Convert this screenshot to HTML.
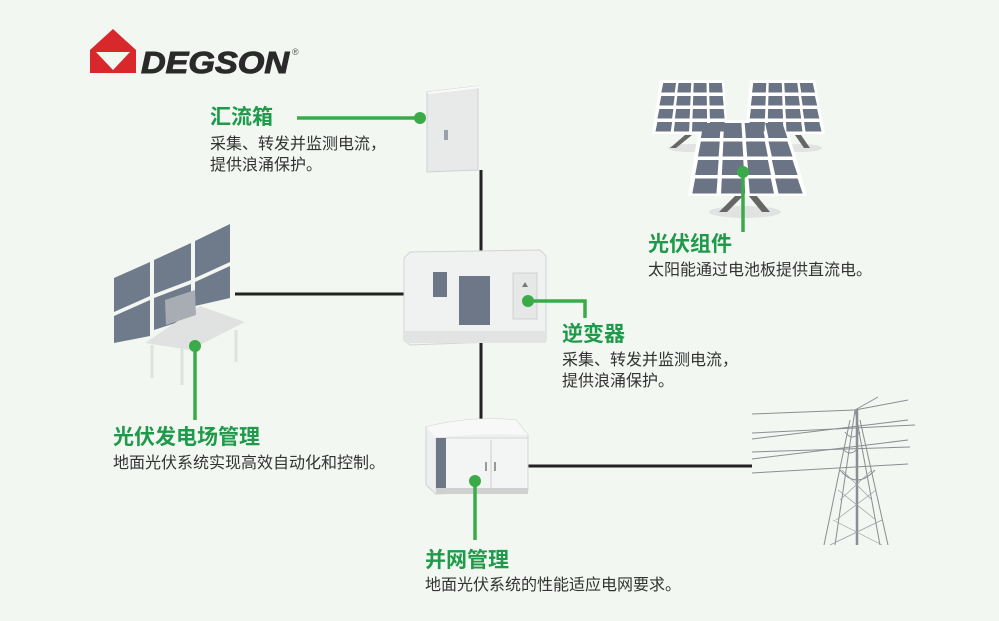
<!DOCTYPE html>
<html><head><meta charset="utf-8"><style>
html,body{margin:0;padding:0;}
body{width:999px;height:621px;background:#f2f7f1;position:relative;overflow:hidden;font-family:"Liberation Sans","Noto Sans CJK SC",sans-serif;}
.t{position:absolute;color:#1f9a4a;font-weight:bold;font-size:21px;line-height:24px;white-space:nowrap;}
.d{position:absolute;color:#333;font-size:16px;line-height:21px;white-space:nowrap;}
svg{position:absolute;left:0;top:0;}
</style></head><body>
<svg width="999" height="621" viewBox="0 0 999 621">
<!-- logo -->
<polygon points="113,29 136,50 90,50" fill="#d8282c"/>
<rect x="90" y="50" width="46" height="23" fill="#d8282c"/>
<polygon points="96,52 130,52 113,70" fill="#f2f7f1"/>
<text x="141" y="73" font-family="Liberation Sans" font-weight="bold" font-style="italic" font-size="31" fill="#2a2a2a" stroke="#2a2a2a" stroke-width="1" textLength="148" lengthAdjust="spacingAndGlyphs">DEGSON</text>
<text x="292" y="55" font-family="Liberation Sans" font-size="9" fill="#555">®</text>

<!-- black connectors -->
<g stroke="#222" stroke-width="3" fill="none">
<line x1="481" y1="170" x2="481" y2="256"/>
<line x1="481" y1="340" x2="481" y2="422"/>
<line x1="235" y1="294" x2="405" y2="294"/>
<line x1="526" y1="466" x2="752" y2="466"/>
</g>

<!-- combiner box -->
<polygon points="427,92 478,86 478,170 427,172" fill="#e8eaea" stroke="#d0d2d2"/>
<polygon points="427,92 478,86 480,88 429,94" fill="#fafafa"/>
<rect x="444" y="130" width="4" height="10" fill="#9aa0a8"/>

<!-- inverter -->
<polygon points="410,252 540,250 546,256 546,340 410,345 404,340 404,258" fill="#f0f1f1" stroke="#d3d5d5"/>
<rect x="405" y="331" width="141" height="12" fill="#e2e4e4"/>
<rect x="433" y="272" width="14" height="25" fill="#6d7788"/>
<rect x="459" y="276" width="31" height="49" fill="#6d7788"/>
<rect x="513" y="273" width="24" height="46" fill="#e6e8e8" stroke="#cfd2d2"/>
<polygon points="525,282 528,287 522,287" fill="#777"/>

<!-- transformer -->
<path d="M426,427 Q470,416 516,420 L528,435 L528,490 L436,494 L426,485 Z" fill="#eeefef" stroke="#d0d2d2"/>
<path d="M426,427 Q470,416 516,420 L528,435 Q480,432 436,438 Z" fill="#f8f8f8"/>
<rect x="436" y="438" width="92" height="52" fill="#f3f4f4" stroke="#d6d8d8"/>
<rect x="436" y="488" width="92" height="6" fill="#cfd1d1"/>
<rect x="436" y="438" width="10" height="50" fill="#6d7788"/>
<line x1="491" y1="440" x2="491" y2="488" stroke="#ccc"/>
<rect x="485" y="462" width="2" height="9" fill="#999"/><rect x="494" y="462" width="2" height="9" fill="#999"/>

<!-- monitors -->
<g fill="#6f7a8b">
<polygon points="114,278 150,262 150,296 114,312"/>
<polygon points="114,316 150,300 150,336 114,343"/>
<polygon points="154,260 191,243 191,280 154,294"/>
<polygon points="154,298 191,284 191,318 154,330"/>
<polygon points="195,241 230,224 230,262 195,278"/>
<polygon points="195,282 230,266 230,298 195,306"/>
</g>
<polygon points="145,343 200,306 245,322 190,350" fill="#dfe2e1"/>
<polygon points="165,300 195,290 196,315 166,325" fill="#a8adb3"/>
<g stroke="#dfe2e1" stroke-width="3"><line x1="152" y1="345" x2="152" y2="378"/><line x1="182" y1="348" x2="182" y2="385"/><line x1="236" y1="330" x2="236" y2="362"/></g>

<!-- solar panels -->
<g>
<polygon points="660,80 724,80 728,134 652,134" fill="#fff"/>
<polygon points="750,80 815,80 825,134 745,134" fill="#fff"/>
<ellipse cx="690" cy="148" rx="22" ry="4" fill="#e0e3e2"/>
<ellipse cx="800" cy="148" rx="22" ry="4" fill="#e0e3e2"/>
<polygon points="685,135 692,135 676,148 670,148" fill="#666"/>
<polygon points="795,135 801,135 810,148 804,148" fill="#666"/>
<ellipse cx="745" cy="212" rx="36" ry="6" fill="#e0e3e2"/>
<polygon points="736,195 744,195 727,212 719,212" fill="#666"/>
<polygon points="748,195 756,195 770,212 762,212" fill="#666"/>
<polygon points="700,120 785,120 807,196 688,196" fill="#fff"/>
</g>
<g fill="#6b7485" id="cells"></g>

<!-- tower -->
<g stroke="#8a8e92" stroke-width="1" fill="none">
<line x1="752" y1="414" x2="855" y2="410"/>
<line x1="752" y1="433" x2="915" y2="425"/>
<line x1="752" y1="439" x2="908" y2="420"/>
<line x1="752" y1="452" x2="910" y2="447"/>
<line x1="752" y1="459" x2="908" y2="440"/>
<line x1="752" y1="473" x2="908" y2="464"/>
<line x1="855" y1="410" x2="878" y2="397"/>
<line x1="855" y1="410" x2="908" y2="400"/>
<line x1="855" y1="410" x2="835" y2="545"/>
<line x1="855" y1="410" x2="880" y2="545"/>
<line x1="850" y1="420" x2="824" y2="545"/>
<line x1="860" y1="420" x2="888" y2="545"/>
<path d="M840,470 Q857,490 875,470"/>
<path d="M842,448 Q850,458 858,448"/>
<path d="M845,432 Q852,442 860,432"/>
</g>
<line x1="857" y1="410" x2="857" y2="545" stroke="#8a8e92" stroke-width="2.5"/>
<g stroke="#9a9ea2" stroke-width="0.7"><line x1="838" y1="490" x2="876" y2="520"/><line x1="876" y1="490" x2="836" y2="520"/><line x1="842" y1="470" x2="872" y2="500"/><line x1="872" y1="470" x2="840" y2="500"/><line x1="833" y1="520" x2="882" y2="545"/><line x1="882" y1="520" x2="830" y2="545"/></g>

<!-- green connectors -->
<g stroke="#3bab49" stroke-width="3.5" fill="none">
<line x1="297" y1="118" x2="420" y2="118"/>
<polyline points="528,301 585,301 585,318"/>
<line x1="195" y1="346" x2="195" y2="420"/>
<line x1="475" y1="481" x2="475" y2="540"/>
<line x1="743" y1="172" x2="743" y2="232"/>
</g>
<g fill="#3bab49">
<circle cx="420" cy="118" r="6"/><circle cx="528" cy="301" r="6"/><circle cx="195" cy="346" r="6"/><circle cx="475" cy="481" r="6"/><circle cx="743" cy="172" r="6"/>
</g>
</svg>
<script>
(function(){var g=document.getElementById('cells'),s='';
function panel(x0t,x1t,x0b,x1b,y0,y1,n){for(var r=0;r<n;r++)for(var c=0;c<4;c++){var a=r/n,b=(r+1)/n;function X(t,u){var l=x0t+(x0b-x0t)*t,rr=x1t+(x1b-x1t)*t;return l+(rr-l)*u;}
var ya=y0+(y1-y0)*a+2,yb=y0+(y1-y0)*b-1.5,ua=c/4+0.02,ub=(c+1)/4-0.02;
s+='<polygon points="'+X(a,ua)+','+ya+' '+X(a,ub)+','+ya+' '+X(b,ub)+','+yb+' '+X(b,ua)+','+yb+'"/>';}}
panel(662,723,654,727,81,133,4);panel(752,814,747,823,81,133,4);panel(702,784,690,805,121,195,4);
g.innerHTML=s;})();
</script>
<div class="t" style="left:210px;top:106px;">汇流箱</div>
<div class="d" style="left:210px;top:134px;">采集、转发并监测电流，<br>提供浪涌保护。</div>
<div class="t" style="left:648px;top:233px;">光伏组件</div>
<div class="d" style="left:648px;top:260px;">太阳能通过电池板提供直流电。</div>
<div class="t" style="left:562px;top:323px;">逆变器</div>
<div class="d" style="left:562px;top:350px;">采集、转发并监测电流，<br>提供浪涌保护。</div>
<div class="t" style="left:113px;top:426px;">光伏发电场管理</div>
<div class="d" style="left:113px;top:453px;">地面光伏系统实现高效自动化和控制。</div>
<div class="t" style="left:425px;top:549px;">并网管理</div>
<div class="d" style="left:425px;top:575px;">地面光伏系统的性能适应电网要求。</div>
</body></html>
